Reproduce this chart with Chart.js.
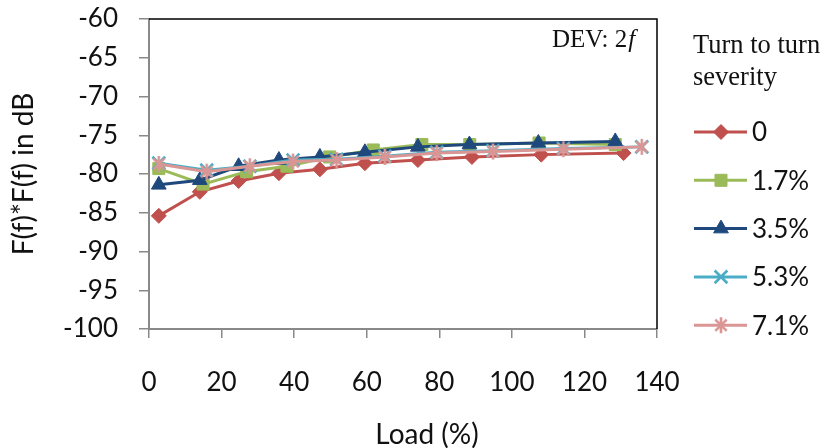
<!DOCTYPE html>
<html lang="en">
<head>
<meta charset="UTF-8">
<title>F(f)*F(f) vs Load</title>
<script src="https://cdn.jsdelivr.net/npm/chart.js"></script>
<style>
  html, body { margin: 0; padding: 0; background: #fff; }
  #wrap { width: 824px; height: 448px; }
</style>
</head>
<body>
<div id="wrap"><canvas id="chart" width="824" height="448"></canvas></div>
<script>
// turn to turn severity levels
const severities = ['0', '1.7%', '3.5%', '5.3%', '7.1%'];

// load (%) for each severity
const load0  = [2.7, 14.0, 24.7, 35.8, 47.1, 59.5, 74.1, 89.0, 108.1, 130.8];
const load17 = [2.7, 14.9, 26.9, 38.0, 49.8, 61.8, 75.2, 88.4, 107.5, 128.5];
const load35 = [2.7, 14.0, 24.7, 35.8, 47.1, 59.5, 74.1, 88.3, 107.3, 128.5];
const load53 = [2.7, 15.9, 27.8, 39.7, 51.7, 65.0, 79.3, 94.8, 114.2, 135.8];
const load71 = [2.7, 15.9, 27.8, 39.7, 51.7, 65.0, 79.3, 94.8, 114.2, 135.8];

// F(f)*F(f) in dB
const db0  = [-85.4, -82.3, -80.9, -79.9, -79.4, -78.6, -78.2, -77.8, -77.5, -77.3];
const db17 = [-79.3, -81.3, -79.7, -79.0, -77.8, -76.9, -76.2, -76.2, -76.0, -76.2];
const db35 = [-81.4, -80.8, -79.0, -78.2, -77.8, -77.2, -76.5, -76.2, -76.0, -75.8];
const db53 = [-78.6, -79.5, -79.0, -78.2, -78.1, -77.7, -77.2, -77.0, -76.7, -76.5];
const db71 = [-78.7, -79.7, -79.0, -78.4, -78.2, -77.8, -77.3, -77.1, -76.8, -76.5];

// axis ticks
const xTicks = [0, 20, 40, 60, 80, 100, 120, 140];
const yTicks = [-100, -95, -90, -85, -80, -75, -70, -65, -60];

const SANS = 'Lato, "Noto Sans", sans-serif';
const SERIF = '"Liberation Serif", "DejaVu Serif", serif';

// asterisk marker: vertical bar plus an x
function makeAsterisk(color) {
  const c = document.createElement('canvas');
  c.width = 20; c.height = 20;
  const g = c.getContext('2d');
  g.strokeStyle = color;
  g.lineWidth = 2.6;
  g.lineCap = 'butt';
  g.beginPath();
  g.moveTo(10, 2); g.lineTo(10, 18);
  g.moveTo(4.3, 4.3); g.lineTo(15.7, 15.7);
  g.moveTo(15.7, 4.3); g.lineTo(4.3, 15.7);
  g.stroke();
  return c;
}

const colors = ['#C0504D', '#9BBB59', '#1F497D', '#4BACC6', '#DA9694'];
const styles = [
  { pointStyle: 'rectRot', radius: 7.5, border: 1 },
  { pointStyle: 'rect', radius: 8.5, border: 1 },
  { pointStyle: 'triangle', radius: 8.5, border: 1 },
  { pointStyle: 'crossRot', radius: 9, border: 2.6 },
  { pointStyle: makeAsterisk(colors[4]), radius: 9, border: 0 }
];

const loads = [load0, load17, load35, load53, load71];
const levels = [db0, db17, db35, db53, db71];

const datasets = severities.map((name, i) => ({
  label: name,
  data: loads[i].map((x, k) => ({ x: x, y: levels[i][k] })),
  borderColor: colors[i],
  backgroundColor: colors[i],
  borderWidth: 3,
  pointStyle: styles[i].pointStyle,
  pointRadius: styles[i].radius,
  pointHoverRadius: styles[i].radius,
  pointBorderWidth: styles[i].border,
  pointBackgroundColor: colors[i],
  pointBorderColor: colors[i],
  tension: 0,
  order: severities.length - i
}));

// black top and right edge of the plot area
const frame = {
  id: 'frame',
  beforeDatasetsDraw(chart) {
    const { ctx, chartArea: a } = chart;
    ctx.save();
    ctx.strokeStyle = '#000';
    ctx.lineWidth = 1.5;
    ctx.beginPath();
    ctx.moveTo(a.left, a.top);
    ctx.lineTo(a.right, a.top);
    ctx.lineTo(a.right, a.bottom);
    ctx.stroke();
    ctx.restore();
  }
};

// "DEV: 2f" note in the corner, and the x axis title (sits right of centre)
const note = {
  id: 'note',
  afterDraw(chart) {
    const { ctx, chartArea: a } = chart;
    ctx.save();
    ctx.fillStyle = '#111';
    ctx.textBaseline = 'alphabetic';
    ctx.font = '25px ' + SERIF;
    const main = 'DEV: 2';
    const x = a.right - 105;
    const y = a.top + 28;
    ctx.fillText(main, x, y);
    const w = ctx.measureText(main).width;
    ctx.font = 'italic 25px ' + SERIF;
    ctx.fillText('f', x + w + 1, y);

    ctx.font = '28px ' + SANS;
    ctx.textAlign = 'center';
    ctx.fillText('Load (%)', a.left + 278, 444);
    ctx.restore();
  }
};

// legend on the right with line through the marker
const sideLegend = {
  id: 'sideLegend',
  afterDraw(chart) {
    const { ctx, chartArea: a } = chart;
    const x0 = a.right + 37;
    ctx.save();
    ctx.fillStyle = '#111';
    ctx.font = '26.5px ' + SERIF;
    ctx.textBaseline = 'alphabetic';
    ctx.fillText('Turn to turn', x0 - 1, 53);
    ctx.fillText('severity', x0 - 1, 85);

    chart.data.datasets.forEach((ds, i) => {
      const y = 132 + i * 48.3;
      ctx.strokeStyle = ds.borderColor;
      ctx.lineWidth = 3;
      ctx.beginPath();
      ctx.moveTo(x0, y);
      ctx.lineTo(x0 + 53, y);
      ctx.stroke();
      ctx.fillStyle = ds.pointBackgroundColor;
      ctx.strokeStyle = ds.pointBorderColor;
      ctx.lineWidth = ds.pointBorderWidth;
      Chart.helpers.drawPoint(ctx, {
        pointStyle: ds.pointStyle,
        radius: ds.pointRadius,
        borderWidth: ds.pointBorderWidth,
        rotation: 0
      }, x0 + 27, y);
      ctx.fillStyle = '#111';
      ctx.font = '26px ' + SANS;
      ctx.textBaseline = 'middle';
      ctx.fillText(ds.label, x0 + 58, y + 1);
      ctx.textBaseline = 'alphabetic';
    });
    ctx.restore();
  }
};

new Chart(document.getElementById('chart'), {
  type: 'line',
  data: { datasets },
  options: {
    responsive: false,
    animation: false,
    layout: { padding: { top: 19, right: 167, left: 0, bottom: 0 } },
    plugins: {
      legend: { display: false },
      tooltip: { enabled: false }
    },
    scales: {
      x: {
        type: 'linear',
        min: 0,
        max: 140,
        afterBuildTicks: s => { s.ticks = xTicks.map(v => ({ value: v })); },
        afterFit: s => { s.height = 119; },
        border: { color: '#898989', width: 2 },
        grid: { drawOnChartArea: false, drawTicks: true, tickLength: 9, color: '#898989', lineWidth: 1.5 },
        ticks: { color: '#111', font: { family: SANS, size: 26 }, padding: 29, maxRotation: 0 },
        title: { display: false }
      },
      y: {
        min: -100,
        max: -60,
        afterBuildTicks: s => { s.ticks = yTicks.map(v => ({ value: v })); },
        // fixed axis width; tick padding should not push the plot top down
        afterFit: s => { s.width = 149; s.paddingTop = 0; s.paddingBottom = 0; },
        border: { color: '#898989', width: 2 },
        grid: { drawOnChartArea: false, drawTicks: true, tickLength: 10, color: '#898989', lineWidth: 1.5 },
        ticks: { color: '#111', font: { family: SANS, size: 26 }, padding: 21 },
        title: { display: true, text: 'F(f)*F(f) in dB', color: '#111', font: { family: SANS, size: 28 }, padding: { top: 7, bottom: 0 } }
      }
    }
  },
  plugins: [frame, note, sideLegend]
});
</script>
</body>
</html>
